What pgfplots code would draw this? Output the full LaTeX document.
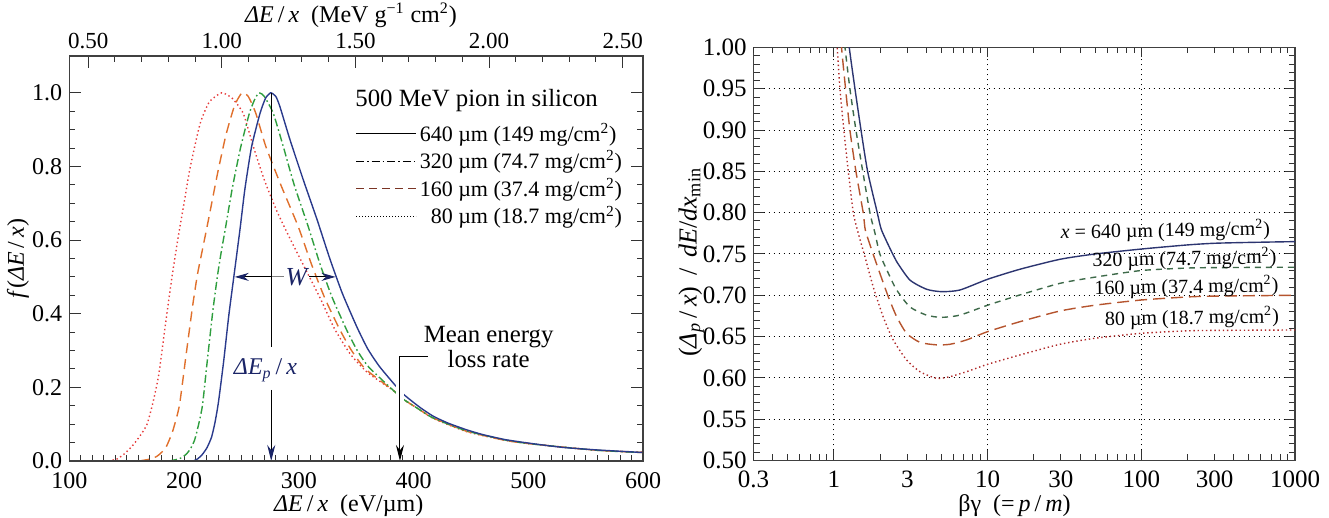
\documentclass[border=0pt]{standalone}
\usepackage{fontspec}
\setmainfont{Liberation Serif}
\usepackage{pgfplots}
\pgfplotsset{compat=1.18}
\usetikzlibrary{arrows.meta}
\definecolor{cblue}{HTML}{2A3A8C}
\definecolor{cgreen}{HTML}{2E9E3E}
\definecolor{corange}{HTML}{E0702C}
\definecolor{cred}{HTML}{E63A3A}
\definecolor{rnavy}{HTML}{2C3570}
\definecolor{rgreen}{HTML}{3E6A4A}
\definecolor{rbrown}{HTML}{B5542E}
\definecolor{rred}{HTML}{B02A2A}
\definecolor{navyarrow}{HTML}{1A2466}
\definecolor{legbrown}{HTML}{7A3424}
\begin{document}
\begin{tikzpicture}
\useasboundingbox (0pt,0pt) rectangle (664.5pt,259pt);
\pgfplotsset{
  every axis/.append style={
    scale only axis, anchor=south west,
    tick align=inside,
    major tick length=6pt, minor tick length=3pt,
    /pgf/number format/assume math mode=true,
    tick label style={font=\fontsize{12}{12}\selectfont},
    label style={font=\fontsize{12}{13}\selectfont},
    axis line style={line width=0.7pt, black!75},
    every tick/.style={black!80, line width=0.5pt},
  }
}
% ---------------- left panel ----------------
\begin{axis}[
  at={(34.65pt,28.5pt)}, width=286.85pt, height=202.5pt,
  xmin=100, xmax=600, ymin=0, ymax=1.1,
  xtick={100,200,300,400,500,600},
  xtick style={/pgfplots/major tick length=3pt},
  extra x ticks={150,250,350,450,550},
  extra x tick labels={},
  extra x tick style={/pgfplots/major tick length=7pt},
  minor x tick num=9,
  ytick={0,0.2,0.4,0.6,0.8,1.0},
  minor y tick num=3,
  yticklabel style={/pgf/number format/.cd,fixed,fixed zerofill,precision=1},
  xticklabel style={yshift=-2pt},
  xtick pos=bottom, ytick pos=both,
  clip mode=individual,
  xlabel={\textit{ΔE}\,/\,\textit{x}\ \ (eV/µm)},
  ylabel={\textit{f}(\textit{ΔE}\,/\,\textit{x})},
  xlabel style={at={(axis description cs:0.487,-0.11)}, anchor=center},
  ylabel style={at={(axis description cs:-0.0894,0.5)}, anchor=center},
  legend style={at={(rel axis cs:0.498,0.843)}, anchor=north west, draw=none, fill=none,
    inner sep=0pt, row sep=0pt, font=\fontsize{11}{12}\selectfont,
    nodes={inner sep=1.6pt, anchor=west}},
  legend cell align=left,
  legend image code/.code={\draw[#1] (0pt,0pt) -- (30pt,0pt);},
]
\addlegendimage{black, line width=0.5pt}
\addlegendentry{640 µm (149 mg/cm\textsuperscript{2})}
\addlegendimage{black, line width=0.5pt, dash pattern=on 4pt off 1.5pt on 0.8pt off 1.5pt}
\addlegendentry{320 µm (74.7 mg/cm\textsuperscript{2})}
\addlegendimage{legbrown, line width=0.6pt, dash pattern=on 4pt off 2.5pt}
\addlegendentry{160 µm (37.4 mg/cm\textsuperscript{2})}
\addlegendimage{black, line width=0.5pt, dash pattern=on 0.6pt off 0.9pt}
\addlegendentry{\phantom{0}80 µm (18.7 mg/cm\textsuperscript{2})}

% 80 um (red dotted)
\addplot[cred, line width=0.7pt, dash pattern=on 0.7pt off 1.4pt, smooth, tension=0.35] coordinates {
(134,0) (142,0.006) (149,0.022) (156,0.045) (162,0.07) (167.8,0.10) (173,0.16) (178,0.235)
(183.7,0.369) (189.5,0.50) (195,0.61) (200,0.70) (205.2,0.795) (213.9,0.915) (222,0.975)
(232.8,1.0) (242,0.985) (251.6,0.944) (260.4,0.854) (270,0.763) (281,0.678) (293,0.60)
(306,0.52) (319,0.44) (331,0.36) (345,0.29) (360,0.24) (383,0.19)
(391,0.168) (405,0.14) (417,0.116) (446,0.08) (480,0.056) (504,0.046) (560,0.029) (600,0.024)};
% 160 um (orange dashed)
\addplot[corange, line width=0.7pt, dash pattern=on 5pt off 3pt, smooth, tension=0.35] coordinates {
(161,0) (170,0.005) (176,0.012) (180,0.022) (184.4,0.038) (190,0.08) (195.9,0.15) (201.4,0.279)
(207.2,0.415) (211.6,0.505) (216.1,0.575) (221.9,0.665) (229.2,0.781) (236.5,0.885) (244,0.965)
(250.5,1.0) (256,0.99) (262.6,0.944) (271.3,0.854) (285,0.745) (299.6,0.636) (311,0.535)
(323,0.44) (335.9,0.356) (346,0.30) (358,0.25) (383,0.19) (391,0.168) (405,0.14)
(417,0.117) (446,0.081) (480,0.056) (504,0.046) (560,0.029) (600,0.023)};
% 320 um (green dash-dot)
\addplot[cgreen, line width=0.7pt, dash pattern=on 4pt off 1.5pt on 0.8pt off 1.5pt, smooth, tension=0.35] coordinates {
(187,0) (196,0.006) (201,0.016) (205,0.03) (209,0.055) (212,0.09) (216,0.15) (220.5,0.279)
(225,0.405) (229,0.50) (232,0.56) (236.5,0.64) (242.3,0.745) (249.5,0.854) (257,0.945)
(262,0.985) (265.5,1.0) (270,0.99) (277.8,0.944) (286.5,0.854) (296,0.75) (308.3,0.636)
(318.5,0.535) (329,0.445) (341.7,0.356) (351,0.30) (361,0.255) (383,0.19)
(391,0.168) (405,0.14) (417,0.117) (446,0.082) (480,0.057) (504,0.046) (560,0.029) (600,0.023)};
% 640 um (blue solid)
\addplot[cblue, line width=0.7pt, smooth, tension=0.35] coordinates {
(208,0) (212,0.006) (216,0.018) (220,0.036) (224,0.065) (227,0.105) (230,0.16) (234.5,0.27)
(239,0.395) (243.8,0.51) (248.8,0.63) (253.1,0.74) (258.9,0.854) (266.2,0.944) (271,0.985)
(275.5,1.0) (280,0.99) (283.6,0.962) (292.4,0.872) (304,0.763) (316,0.655) (327,0.55)
(338,0.455) (350.5,0.365) (360,0.305) (370,0.258) (382,0.213) (391,0.182)
(405,0.147) (417,0.122) (430,0.103) (446,0.085) (460,0.072) (480,0.058) (504,0.047)
(530,0.037) (560,0.030) (600,0.023)};

\node[anchor=west, inner sep=0pt, font=\fontsize{12.4}{13}\selectfont] at (axis cs:349,0.98) {500 MeV pion in silicon};
% Delta p arrow
\draw[line width=0.5pt] (axis cs:276,1.0) -- (axis cs:276,0.31);
\draw[line width=0.5pt, -{Stealth[length=8pt,width=4pt,color=navyarrow]}] (axis cs:276,0.193) -- (axis cs:276,0);
\node[text=navyarrow, font=\fontsize{12}{13}\selectfont] at (axis cs:271,0.247) {\textit{ΔE}\textsubscript{\textit{p}}\,/\,\textit{x}};
% W
\draw[line width=0.5pt, -{Stealth[length=7pt,width=4pt,color=navyarrow]}] (axis cs:276,0.5) -- (axis cs:244.2,0.5);
\draw[line width=0.5pt, gray] (axis cs:277,0.5) -- (axis cs:287,0.5);
\node[text=navyarrow, font=\itshape\fontsize{13}{13}\selectfont] at (axis cs:298,0.5) {W};
\draw[line width=0.5pt, -{Stealth[length=7pt,width=4pt,color=navyarrow]}] (axis cs:309,0.5) -- (axis cs:332,0.5);
% mean energy loss
\draw[white, line width=4pt] (axis cs:388.2,0.12) -- (axis cs:388.2,0.26);
\draw[line width=0.5pt, -{Stealth[length=8pt,width=4pt]}] (axis cs:412.6,0.285) -- (axis cs:388.2,0.285) -- (axis cs:388.2,0);
\node[align=center, font=\fontsize{12.4}{9.8}\selectfont] at (axis cs:465.5,0.31) {Mean energy\\loss rate};
\end{axis}
% top axis of left panel
\begin{axis}[
  at={(34.65pt,28.5pt)}, width=286.85pt, height=202.5pt,
  xmin=0.429370, xmax=2.576220, ymin=0, ymax=1,
  xtick={0.5,1,1.5,2,2.5}, minor x tick num=4,
  xticklabel style={/pgf/number format/.cd,fixed,fixed zerofill,precision=2},
  tick label style={font=\fontsize{11.5}{12}\selectfont},
  xtick pos=top, xticklabel pos=top, ytick=\empty,
  xlabel={\textit{ΔE}\,/\,\textit{x}\ \ (MeV g\textsuperscript{−1} cm\textsuperscript{2})},
  xlabel style={at={(axis description cs:0.491,1.101)}, anchor=center},
]
\end{axis}
% ---------------- right panel ----------------
\begin{axis}[
  at={(376.8pt,28.75pt)}, width=270.7pt, height=206.5pt,
  xmode=log, xmin=0.3, xmax=1000, ymin=0.5, ymax=1.0,
  xtick={1,10,100,1000}, xticklabels={1,10,100,1000},
  extra x ticks={0.3,3,30,300}, extra x tick labels={0.3,3,30,300},
  extra x tick style={grid=none, /pgfplots/major tick length=3pt},
  minor xtick={0.4,0.5,0.6,0.7,0.8,0.9,2,3,4,5,6,7,8,9,20,30,40,50,60,70,80,90,200,300,400,500,600,700,800,900},
  ytick={0.5,0.55,0.6,0.65,0.7,0.75,0.8,0.85,0.9,0.95,1.0},
  minor y tick num=4,
  major tick length=5pt,
  tick label style={font=\fontsize{12.5}{13}\selectfont},
  yticklabel style={/pgf/number format/.cd,fixed,fixed zerofill,precision=2},
  xticklabel style={yshift=-1.5pt},
  xtick pos=both, ytick pos=both,
  xmajorgrids, ymajorgrids,
  grid style={black, line width=0.5pt, dash pattern=on 0.6pt off 1.9pt},
  clip mode=individual,
  xlabel={βγ\ \ (=\,\textit{p}\,/\,\textit{m})},
  ylabel={(\textit{Δ}\textsubscript{\textit{p}}\,/\,\textit{x})\ \,/\ \,\textit{dE}/\textit{dx}\textsubscript{min}},
  xlabel style={at={(axis description cs:0.482,-0.11)}, anchor=center},
  ylabel style={at={(axis description cs:-0.115,0.48)}, anchor=center, font=\fontsize{13}{14}\selectfont},
]
\addplot[rred, line width=0.7pt, dash pattern=on 0.7pt off 1.4pt, smooth, tension=0.4] coordinates {
(1.03,1.03) (1.05,1.00) (1.094,0.95) (1.16,0.90) (1.24,0.85) (1.336,0.80) (1.44,0.775) (1.59,0.7467)
(1.80,0.7104) (2.09,0.674) (2.43,0.646) (2.97,0.6217) (3.63,0.6075) (4.66,0.5995) (5.69,0.6015)
(7.3,0.6075) (10,0.6165) (16.2,0.6277) (29.6,0.6407) (50,0.648) (100,0.654) (200,0.657) (300,0.6575) (1000,0.658)};
\addplot[rbrown, line width=0.7pt, dash pattern=on 6pt off 3pt, smooth, tension=0.4] coordinates {
(1.09,1.03) (1.12,1.00) (1.19,0.95) (1.27,0.90) (1.39,0.85) (1.55,0.80) (1.60,0.779) (1.76,0.755)
(1.99,0.7266) (2.26,0.698) (2.56,0.674) (2.97,0.654) (3.63,0.643) (4.66,0.640) (5.69,0.6407)
(7.3,0.646) (10,0.656) (16.2,0.668) (29.6,0.681) (50,0.688) (100,0.6943) (200,0.698) (300,0.699) (1000,0.700)};
\addplot[rgreen, line width=0.7pt, dash pattern=on 3pt off 2.5pt, smooth, tension=0.4] coordinates {
(1.14,1.03) (1.18,1.00) (1.27,0.95) (1.39,0.90) (1.54,0.85) (1.714,0.80) (1.85,0.775) (1.99,0.75)
(2.26,0.7266) (2.56,0.7064) (3.12,0.686) (4.0,0.676) (5.0,0.6733) (6.6,0.676) (10,0.688)
(16.2,0.7004) (29.6,0.7145) (50,0.722) (100,0.730) (200,0.733) (300,0.7335) (1000,0.734)};
\addplot[rnavy, line width=0.7pt, smooth, tension=0.4] coordinates {
(1.22,1.03) (1.258,1.00) (1.37,0.95) (1.50,0.90) (1.656,0.85) (1.914,0.80) (2.04,0.779) (2.41,0.75)
(2.56,0.7407) (3.12,0.7185) (4.01,0.7073) (5.02,0.7044) (6.6,0.7064) (10,0.7194) (16.2,0.7315)
(29.6,0.7436) (50,0.750) (100,0.756) (200,0.761) (300,0.763) (500,0.764) (1000,0.765)};
\node[rotate=1, inner sep=0pt, font=\fontsize{10}{11}\selectfont] at (axis cs:143.5,0.778) {\textit{x} = 640 µm (149 mg/cm\textsuperscript{2})};
\node[rotate=1, inner sep=0pt, font=\fontsize{10}{11}\selectfont] at (axis cs:190.7,0.744) {320 µm (74.7 mg/cm\textsuperscript{2})};
\node[rotate=1, inner sep=0pt, font=\fontsize{10}{11}\selectfont] at (axis cs:196.5,0.710) {160 µm (37.4 mg/cm\textsuperscript{2})};
\node[rotate=1, inner sep=0pt, font=\fontsize{10}{11}\selectfont] at (axis cs:213.4,0.6725) {80 µm (18.7 mg/cm\textsuperscript{2})};
\end{axis}
\end{tikzpicture}
\end{document}
